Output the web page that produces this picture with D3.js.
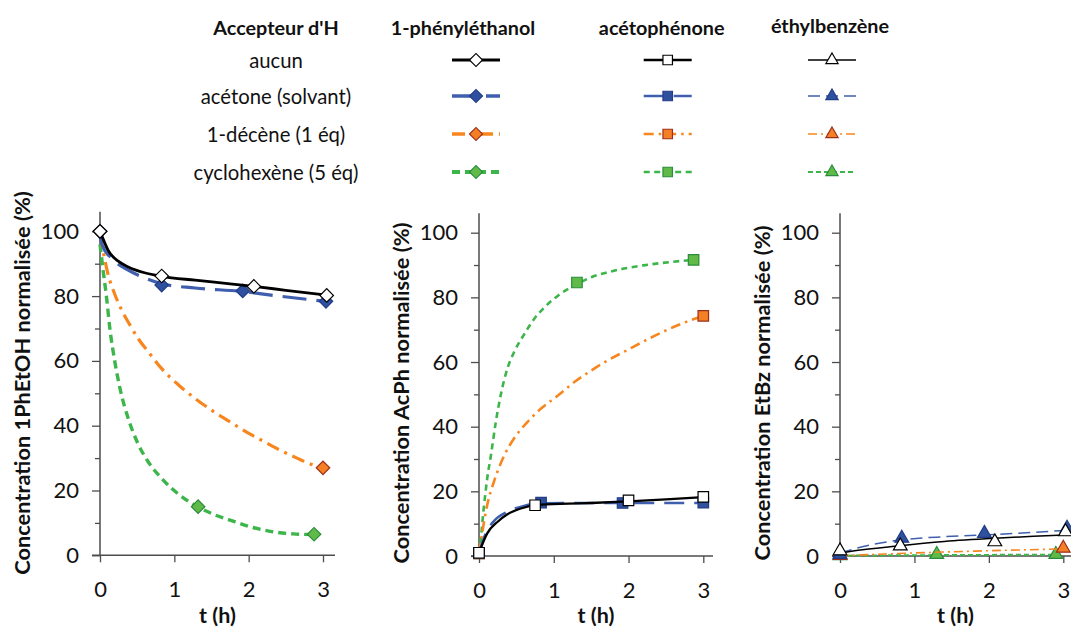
<!DOCTYPE html>
<html><head><meta charset="utf-8">
<script src="https://cdn.jsdelivr.net/npm/d3@7"></script>
<style>
body{margin:0;background:#fff}
svg{display:block;font-family:Lato,"Open Sans","DejaVu Sans",sans-serif}
</style>
</head><body>
<svg id="chart" width="1071" height="628"></svg>
<script>
// ---------- texts ----------
const legendHeader = "Accepteur d'H";
const acceptors = ["aucun", "acétone (solvant)", "1-décène (1 éq)", "cyclohexène (5 éq)"];
const compounds = ["1-phényléthanol", "acétophénone", "éthylbenzène"];
const yTitles = ["Concentration 1PhEtOH normalisée (%)", "Concentration AcPh normalisée (%)", "Concentration EtBz normalisée (%)"];
const xTitle = "t (h)";
const yTicks = [0, 20, 40, 60, 80, 100];
const yMinorTicks = [10, 30, 50, 70, 90];
const xTicks = [0, 1, 2, 3];

// ---------- measured points [t (h), %] ----------
// 1-phényléthanol
const phOH_aucun   = [[0,100],[0.83,86.2],[2.07,83.0],[3.05,80.2]];
const phOH_acetone = [[0,100],[0.83,83.4],[1.92,81.6],[3.04,78.4]];
const phOH_decene  = [[0,100],[3.0,27.0]];
const phOH_cyclo   = [[0,100],[1.32,15.0],[2.88,6.5]];
// acétophénone
const acph_aucun   = [[0,1.0],[0.75,15.7],[2.0,17.2],[3.0,18.3]];
const acph_acetone = [[0,1.0],[0.83,16.5],[1.92,16.4],[3.0,16.5]];
const acph_decene  = [[0,0.8],[3.0,74.3]];
const acph_cyclo   = [[0,0.8],[1.31,84.6],[2.87,91.6]];
// éthylbenzène
const etbz_aucun   = [[0,1.6],[0.81,3.1],[2.08,4.4],[3.03,7.5]];
const etbz_acetone = [[0,0.5],[0.83,5.5],[1.94,7.0],[3.05,8.6]];
const etbz_decene  = [[0,0.2],[3.0,2.4]];
const etbz_cyclo   = [[0,0.1],[1.3,0.5],[2.9,0.5]];

// ---------- trend curves [t (h), %] ----------
const phOH_aucun_fit   = [[0,100],[0.03,98.3],[0.11,94.1],[0.25,90.7],[0.38,89.0],[0.6,87.2],[0.83,86.1],[1.28,84.9],[1.75,83.8],[2.07,83.0],[2.5,81.8],[3.05,80.3]];
const phOH_acetone_fit = [[0,98.5],[0.03,95.7],[0.16,91.6],[0.38,88.0],[0.6,85.6],[0.83,83.8],[1.28,82.5],[1.92,81.4],[2.3,80.3],[2.6,79.5],[3.05,78.3]];
const phOH_decene_fit  = [[0,99],[0.05,93],[0.1,87.5],[0.2,80.5],[0.3,75.3],[0.4,71.2],[0.51,67.0],[0.65,62.8],[0.83,57.6],[1.06,52.5],[1.28,48.4],[1.5,44.8],[1.79,40.6],[2.02,37.4],[2.2,35.2],[2.42,32.5],[2.65,30.0],[2.83,28.2],[3.0,27.0]];
const phOH_cyclo_fit   = [[0,96],[0.045,87.4],[0.09,79.2],[0.13,70.5],[0.2,59.7],[0.27,51.4],[0.38,42.2],[0.51,34.5],[0.65,28.8],[0.83,23.7],[1.06,18.8],[1.28,15.4],[1.5,12.9],[1.82,10.3],[2.02,8.8],[2.29,7.4],[2.6,6.6],[2.88,6.4]];

const acph_aucun_fit   = [[0,1.0],[0.11,7.0],[0.25,10.6],[0.38,12.9],[0.56,14.7],[0.77,15.8],[1.2,16.2],[1.5,16.4],[2.0,16.9],[2.5,17.5],[3.0,18.2]];
const acph_acetone_fit = [[0,1.0],[0.1,7.5],[0.2,10.8],[0.38,13.7],[0.6,15.5],[0.83,16.3],[1.2,16.4],[2.0,16.4],[3.0,16.4]];
const acph_decene_fit  = [[0,0.8],[0.045,7.5],[0.11,15.8],[0.2,23.0],[0.34,31.2],[0.47,36.4],[0.65,41.5],[0.83,45.6],[1.06,49.7],[1.28,53.9],[1.51,57.5],[1.73,60.6],[1.95,63.3],[2.34,68.0],[2.65,71.3],[3.0,74.3]];
const acph_cyclo_fit   = [[0,0.8],[0.02,4.4],[0.06,14.0],[0.11,24.0],[0.16,31.2],[0.225,41.5],[0.29,49.7],[0.38,58.0],[0.47,63.1],[0.61,68.8],[0.74,73.4],[0.88,77.0],[1.06,80.6],[1.28,83.7],[1.51,86.3],[1.73,87.8],[1.94,88.9],[2.2,89.9],[2.55,90.9],[2.87,91.6]];

const etbz_aucun_fit   = [[0,0.9],[0.3,1.9],[0.8,3.2],[1.4,4.5],[2.08,5.5],[2.6,6.1],[3.1,6.6]];
const etbz_acetone_fit = [[0,0.9],[0.4,3.4],[0.83,5.0],[1.43,6.0],[2.1,6.7],[3.1,8.0]];
const etbz_decene_fit  = [[0,0.1],[1.21,1.1],[3.0,2.2]];
const etbz_cyclo_fit   = [[0,0.1],[1.5,0.3],[2.9,0.4]];

// ---------- styles ----------
const seriesStyle = [
  {line:"#000000", fill:"#ffffff", stroke:"#000000"},
  {line:"#3f5fae", fill:"#2f4f9f", stroke:"#213d86"},
  {line:"#f7861f", fill:"#f47f24", stroke:"#9c2f1c"},
  {line:"#3cb54a", fill:"#60ba48", stroke:"#2a8c3c"}
];
const panelStyle = [
  {marker:"diamond",  widths:[2.8,3.2,3.2,3.4], dashes:["none","24,10","13,6,3,6","8,5"]},
  {marker:"square",   widths:[2.3,2.6,2.6,2.6], dashes:["none","20,10","10,5,2.5,5","6,4.5"]},
  {marker:"triangle", widths:[1.5,1.5,1.6,2.0], dashes:["none","12,6","9,4,2,4","5,3"]}
];
const panels = [
  {pts:[phOH_aucun,phOH_acetone,phOH_decene,phOH_cyclo], fits:[phOH_aucun_fit,phOH_acetone_fit,phOH_decene_fit,phOH_cyclo_fit],
   xr:[100,323], xEnd:335, yr:[555.3,231.3], titleX:22, titleY:383},
  {pts:[acph_aucun,acph_acetone,acph_decene,acph_cyclo], fits:[acph_aucun_fit,acph_acetone_fit,acph_decene_fit,acph_cyclo_fit],
   xr:[479,703.3], xEnd:713, yr:[556,232.7], titleX:401, titleY:393},
  {pts:[etbz_aucun,etbz_acetone,etbz_decene,etbz_cyclo], fits:[etbz_aucun_fit,etbz_acetone_fit,etbz_decene_fit,etbz_cyclo_fit],
   xr:[840,1063.3], xEnd:1071, yr:[556,232.7], titleX:762, titleY:393}
];

const svg = d3.select("#chart");
const AX = "#4d4d4d", TXT = "#111111";

function symbolPath(kind, size) {
  if (kind === "diamond") return d3.symbol().type(d3.symbolSquare).size(size*size/2)();
  if (kind === "square") return d3.symbol().type(d3.symbolSquare).size(size*size)();
  return d3.symbol().type(d3.symbolTriangle).size(size*size*0.45)();
}
const markerSize = {diamond:13.5, square:10.5, triangle:13.5};

function drawMarker(g, kind, cx, cy, st, size) {
  const p = g.append("path").attr("d", symbolPath(kind, size))
    .attr("fill", st.fill).attr("stroke", st.stroke).attr("stroke-width", 1.2);
  if (kind === "diamond") p.attr("transform", `translate(${cx},${cy}) rotate(45)`);
  else p.attr("transform", `translate(${cx},${cy})`);
}

panels.forEach((P, pi) => {
  const x = d3.scaleLinear().domain([0,3]).range(P.xr);
  const y = d3.scaleLinear().domain([0,100]).range(P.yr);
  const g = svg.append("g");
  const x0 = x(0), y0 = y(0);

  // y axis
  const ya = g.append("g").attr("transform", `translate(${x0},0)`)
    .call(d3.axisLeft(y).tickValues(yTicks).tickSize(8).tickPadding(13).tickFormat(d3.format("d")));
  ya.select(".domain").remove();
  ya.selectAll("line").attr("stroke", AX).attr("stroke-width", 1.3);
  ya.selectAll("text").attr("font-size", 22).attr("fill", TXT).attr("font-family", "Lato");
  const ym = g.append("g").attr("transform", `translate(${x0},0)`)
    .call(d3.axisLeft(y).tickValues(yMinorTicks).tickSize(5).tickFormat(""));
  ym.select(".domain").remove();
  ym.selectAll("line").attr("stroke", AX).attr("stroke-width", 1.3);
  g.append("line").attr("x1", x0).attr("x2", x0).attr("y1", y0).attr("y2", y(106))
    .attr("stroke", AX).attr("stroke-width", 1.5);

  // x axis
  const xa = g.append("g").attr("transform", `translate(0,${y0})`)
    .call(d3.axisBottom(x).tickValues(xTicks).tickSize(7).tickPadding(19).tickFormat(d3.format("d")));
  xa.select(".domain").remove();
  xa.selectAll("line").attr("stroke", AX).attr("stroke-width", 1.3);
  xa.selectAll("text").attr("font-size", 22).attr("fill", TXT).attr("font-family", "Lato");
  g.append("line").attr("x1", x0 - 8).attr("x2", P.xEnd).attr("y1", y0).attr("y2", y0)
    .attr("stroke", AX).attr("stroke-width", 1.5);

  // titles
  g.append("text").attr("x", (x0 + P.xEnd)/2).attr("y", 623).attr("text-anchor", "middle")
    .attr("font-size", 21.5).attr("font-weight", "bold").attr("fill", TXT).text(xTitle);
  g.append("text").attr("transform", `translate(${P.titleX + 7.5},${P.titleY}) rotate(-90)`)
    .attr("text-anchor", "middle").attr("font-size", 21.8).attr("font-weight", "bold")
    .attr("fill", TXT).text(yTitles[pi]);

  // series: drawn cyclohexène first, aucun last
  const line = d3.line().x(d => x(d[0])).y(d => y(d[1])).curve(d3.curveMonotoneX);
  const ps = panelStyle[pi];
  [3,2,1,0].forEach(si => {
    const st = seriesStyle[si];
    g.append("path").attr("d", line(P.fits[si])).attr("fill", "none")
      .attr("stroke", st.line).attr("stroke-width", ps.widths[si])
      .attr("stroke-dasharray", ps.dashes[si]);
    P.pts[si].forEach(d => drawMarker(g, ps.marker, x(d[0]), y(d[1]), st, markerSize[ps.marker]));
  });
});

// ---------- legend ----------
const legX = 276, colX = [476, 667.7, 832], rowY = [60, 96, 134, 172], halfLen = 24;
const lg = svg.append("g");
lg.append("text").attr("x", legX).attr("y", 27).attr("text-anchor", "middle").attr("dominant-baseline", "central")
  .attr("font-size", 19.8).attr("font-weight", "bold").attr("fill", TXT).text(legendHeader);
compounds.forEach((c, ci) => {
  lg.append("text").attr("x", colX[ci] - (ci === 0 ? 13 : ci === 1 ? 6 : 2)).attr("y", ci === 2 ? 25 : 27)
    .attr("text-anchor", "middle").attr("dominant-baseline", "central")
    .attr("font-size", 19.8).attr("font-weight", "bold").attr("fill", TXT).text(c);
});
acceptors.forEach((a, ri) => {
  lg.append("text").attr("x", legX).attr("y", rowY[ri]).attr("text-anchor", "middle").attr("dominant-baseline", "central")
    .attr("font-size", 20.3).attr("fill", TXT).text(a);
  compounds.forEach((c, ci) => {
    const ps = panelStyle[ci], st = seriesStyle[ri];
    lg.append("line").attr("x1", colX[ci] - halfLen).attr("x2", colX[ci] + halfLen)
      .attr("y1", rowY[ri]).attr("y2", rowY[ri])
      .attr("stroke", st.line).attr("stroke-width", ps.widths[ri] + (ci === 0 ? 0.4 : 0))
      .attr("stroke-dasharray", ps.dashes[ri]);
    drawMarker(lg, ps.marker, colX[ci], rowY[ri], st, ci === 0 ? 13 : ci === 1 ? 9.5 : 12);
  });
});
</script>
</body></html>
